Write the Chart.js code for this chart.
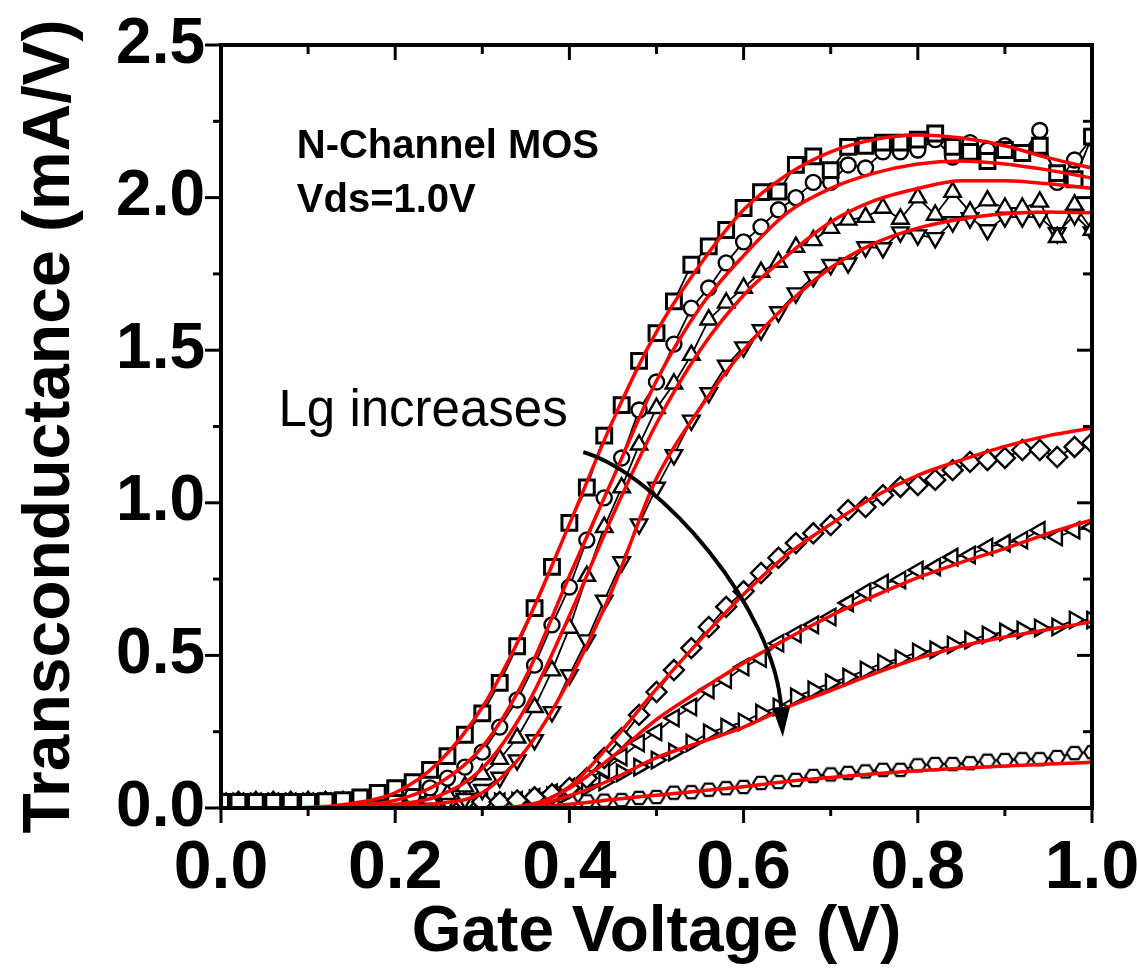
<!DOCTYPE html>
<html>
<head>
<meta charset="utf-8">
<script src="https://cdn.jsdelivr.net/npm/chart.js@4.4.0/dist/chart.umd.min.js"></script>
<style>
  html, body { margin: 0; padding: 0; background: #fff; }
  #wrap { width: 1137px; height: 973px; position: relative; }
</style>
</head>
<body>
<div id="wrap"><canvas id="gm"></canvas></div>
<script>
// gate voltage of the measured points (V)
const vg = [0,0.02,0.04,0.06,0.08,0.1,0.12,0.14,0.16,0.18,0.2,0.22,0.24,0.26,0.28,0.3,0.32,0.34,0.36,0.38,
  0.4,0.42,0.44,0.46,0.48,0.5,0.52,0.54,0.56,0.58,0.6,0.62,0.64,0.66,0.68,0.7,0.72,0.74,0.76,0.78,
  0.8,0.82,0.84,0.86,0.88,0.9,0.92,0.94,0.96,0.98,1.0];

// measured transconductance (mA/V), shortest gate first
const gmSquare = [0.02,0.02,0.02,0.02,0.02,0.02,0.022,0.026,0.035,0.049,0.065,0.085,0.125,0.17,0.24,0.31,0.41,0.53,0.655,0.79,
  0.934,1.05,1.22,1.32,1.465,1.556,1.66,1.78,1.84,1.894,1.966,2.018,2.02,2.107,2.135,2.09,2.166,2.17,2.18,2.18,
  2.19,2.21,2.166,2.15,2.12,2.156,2.146,2.17,2.08,2.06,2.2];
const gmCircle = [0.02,0.02,0.02,0.02,0.02,0.02,0.02,0.02,0.02,0.022,0.025,0.04,0.066,0.098,0.134,0.183,0.265,0.354,0.468,0.6,
  0.724,0.878,1.016,1.147,1.304,1.396,1.52,1.638,1.704,1.786,1.855,1.904,1.96,2.0,2.05,2.05,2.107,2.097,2.15,2.15,
  2.156,2.19,2.133,2.18,2.156,2.17,2.146,2.22,2.05,2.123,2.195];
const gmUp = [0.02,0.02,0.02,0.02,0.02,0.02,0.02,0.02,0.02,0.02,0.02,0.022,0.03,0.045,0.07,0.11,0.16,0.23,0.33,0.45,
  0.59,0.76,0.92,1.05,1.19,1.31,1.39,1.484,1.6,1.655,1.704,1.756,1.789,1.838,1.86,1.9,1.927,1.936,1.966,1.93,
  2.0,1.943,2.018,1.953,1.99,1.966,1.966,1.986,1.87,1.976,1.894];
const gmDown = [0.02,0.02,0.02,0.02,0.02,0.02,0.02,0.02,0.02,0.02,0.02,0.02,0.02,0.022,0.03,0.06,0.1,0.157,0.223,0.315,
  0.436,0.55,0.68,0.806,0.93,1.05,1.157,1.27,1.36,1.45,1.51,1.566,1.625,1.687,1.74,1.78,1.785,1.838,1.835,1.887,
  1.877,1.868,1.92,1.933,1.894,1.936,1.936,1.936,1.884,1.943,1.887];
const gmDiamond = [0.02,0.02,0.02,0.02,0.02,0.02,0.02,0.02,0.02,0.02,0.02,0.02,0.02,0.02,0.02,0.02,0.02,0.025,0.035,0.045,
  0.066,0.098,0.164,0.229,0.305,0.38,0.452,0.524,0.593,0.659,0.71,0.77,0.82,0.868,0.9,0.927,0.976,0.986,1.025,1.052,
  1.058,1.075,1.107,1.134,1.14,1.147,1.173,1.173,1.15,1.183,1.196];
const gmLeft = [0.02,0.02,0.02,0.02,0.02,0.02,0.02,0.02,0.02,0.02,0.02,0.02,0.02,0.02,0.02,0.02,0.02,0.025,0.035,0.05,
  0.069,0.092,0.125,0.167,0.213,0.249,0.295,0.331,0.387,0.42,0.462,0.49,0.54,0.57,0.6,0.626,0.672,0.708,0.737,0.747,
  0.78,0.79,0.822,0.829,0.855,0.868,0.878,0.91,0.888,0.91,0.92];
const gmRight = [0.02,0.02,0.02,0.02,0.02,0.02,0.02,0.02,0.02,0.02,0.02,0.02,0.02,0.02,0.02,0.02,0.02,0.023,0.03,0.04,
  0.052,0.069,0.085,0.115,0.134,0.157,0.183,0.213,0.246,0.265,0.282,0.311,0.331,0.364,0.387,0.41,0.429,0.452,0.475,0.49,
  0.511,0.518,0.534,0.55,0.567,0.577,0.583,0.59,0.593,0.616,0.616];
const gmHex = [0.02,0.02,0.02,0.02,0.02,0.02,0.02,0.02,0.02,0.02,0.02,0.02,0.02,0.02,0.02,0.02,0.02,0.02,0.02,0.02,
  0.02,0.022,0.024,0.026,0.033,0.036,0.05,0.052,0.06,0.065,0.069,0.082,0.085,0.092,0.105,0.11,0.115,0.12,0.125,0.125,
  0.14,0.144,0.144,0.147,0.155,0.157,0.16,0.16,0.167,0.18,0.183];

// model fits (red)
const vgFit = [0,0.05,0.1,0.15,0.2,0.25,0.3,0.35,0.4,0.45,0.5,0.55,0.6,0.65,0.7,0.75,0.8,0.85,0.9,0.95,1.0];
const fit1 = [0,0,0.002,0.015,0.05,0.15,0.33,0.6,0.93,1.27,1.56,1.78,1.96,2.075,2.15,2.19,2.205,2.195,2.17,2.13,2.097];
const fit2 = [0,0,0,0.008,0.025,0.08,0.2,0.43,0.76,1.08,1.4,1.64,1.81,1.95,2.03,2.08,2.11,2.12,2.11,2.09,2.064];
const fit3 = [0,0,0,0.004,0.012,0.04,0.13,0.33,0.63,0.96,1.26,1.5,1.68,1.81,1.92,1.99,2.03,2.055,2.055,2.045,2.03];
const fit4 = [0,0,0,0,0.005,0.015,0.05,0.19,0.42,0.72,1.08,1.31,1.5,1.65,1.77,1.85,1.9,1.93,1.947,1.953,1.95];
const fit5 = [0,0,0,0,0,0,0,0.008,0.07,0.22,0.39,0.55,0.7,0.83,0.93,1.02,1.09,1.14,1.185,1.22,1.245];
const fit6 = [0,0,0,0,0,0,0,0.006,0.065,0.17,0.29,0.385,0.475,0.555,0.63,0.695,0.755,0.805,0.85,0.9,0.944];
const fit7 = [0,0,0,0,0,0,0,0.004,0.04,0.095,0.165,0.215,0.265,0.33,0.385,0.44,0.49,0.53,0.56,0.585,0.61];
const fit8 = [0,0,0,0,0,0,0,0.002,0.012,0.028,0.042,0.056,0.07,0.087,0.1,0.112,0.122,0.13,0.138,0.144,0.15];

// axis ticks
const xMajor = [0,0.2,0.4,0.6,0.8,1.0];
const xMinor = [0.1,0.3,0.5,0.7,0.9];
const yMajor = [0,0.5,1.0,1.5,2.0,2.5];
const yMinor = [0.25,0.75,1.25,1.75,2.25];

// text notes and the arrow, in data units
const notes = [
  { text: 'N-Channel MOS', x: 0.087, y: 2.13, font: '700 40px "Liberation Sans", Arial' },
  { text: 'Vds=1.0V', x: 0.087, y: 1.953, font: '700 40px "Liberation Sans", Arial' },
  { text: 'Lg increases', x: 0.066, y: 1.252, font: '400 51px "Liberation Sans", Arial' }
];
const arrowPath = [[0.416,1.166],[0.505,1.091],[0.637,0.649],[0.645,0.233]];

const FONT = '"Liberation Sans", Arial, sans-serif';

function hexagon(size, lw){
  const c = document.createElement('canvas');
  c.width = size; c.height = size;
  const g = c.getContext('2d');
  const r = size/2 - lw;
  g.fillStyle = '#fff';
  g.strokeStyle = '#000';
  g.lineWidth = lw;
  g.beginPath();
  for(let k=0;k<6;k++){
    const a = Math.PI/3*k;
    const px = size/2 + r*Math.cos(a), py = size/2 + r*0.9*Math.sin(a);
    if(k===0) g.moveTo(px,py); else g.lineTo(px,py);
  }
  g.closePath(); g.fill(); g.stroke();
  return c;
}

const pts = (xs, ys) => xs.map((x,i) => ({x, y: ys[i]}));

function measured(ys, style, radius, rotation){
  return {
    data: pts(vg, ys), order: 1,
    showLine: true, borderColor: '#000', borderWidth: 1.8,
    pointStyle: style, pointRadius: radius, pointRotation: rotation || 0,
    pointBorderColor: '#000', pointBackgroundColor: '#fff', pointBorderWidth: 2.4
  };
}
function fitted(ys){
  return {
    data: pts(vgFit, ys), order: 0,
    showLine: true, borderColor: '#ff0000', borderWidth: 3.5,
    cubicInterpolationMode: 'monotone', pointRadius: 0
  };
}

const datasets = [
  fitted(fit1), fitted(fit2), fitted(fit3), fitted(fit4),
  fitted(fit5), fitted(fit6), fitted(fit7), fitted(fit8),
  measured(gmSquare, 'rect', 10.5),
  measured(gmCircle, 'circle', 7.5),
  measured(gmUp, 'triangle', 9.5),
  measured(gmDown, 'triangle', 9.5, 180),
  measured(gmDiamond, 'rectRot', 10),
  measured(gmLeft, 'triangle', 9.5, 270),
  measured(gmRight, 'triangle', 9.5, 90),
  measured(gmHex, hexagon(20, 2.2), 10)
];
datasets[8].pointBorderWidth = 3;

const framePlugin = {
  id: 'frame',
  afterDatasetsDraw(chart){
    const {ctx, chartArea: a, scales: {x, y}} = chart;
    ctx.save();
    ctx.strokeStyle = '#000';
    ctx.lineCap = 'butt';
    ctx.lineWidth = 3;
    const tick = (x1,y1,x2,y2) => { ctx.beginPath(); ctx.moveTo(x1,y1); ctx.lineTo(x2,y2); ctx.stroke(); };
    xMajor.forEach(v => { const p = x.getPixelForValue(v); tick(p,a.bottom,p,a.bottom+15); tick(p,a.top,p,a.top+15); });
    xMinor.forEach(v => { const p = x.getPixelForValue(v); tick(p,a.bottom,p,a.bottom+8); tick(p,a.top,p,a.top+9); });
    yMajor.forEach(v => { const p = y.getPixelForValue(v); tick(a.left,p,a.left-16,p); tick(a.right,p,a.right-15,p); });
    yMinor.forEach(v => { const p = y.getPixelForValue(v); tick(a.left,p,a.left-8,p); tick(a.right,p,a.right-9,p); });
    ctx.lineWidth = 4;
    ctx.strokeRect(a.left, a.top, a.right-a.left, a.bottom-a.top);

    // notes
    ctx.fillStyle = '#000';
    ctx.textAlign = 'left';
    ctx.textBaseline = 'alphabetic';
    notes.forEach(n => {
      ctx.font = n.font;
      ctx.fillText(n.text, x.getPixelForValue(n.x), y.getPixelForValue(n.y));
    });

    // curved arrow
    const P = arrowPath.map(([vx,vy]) => [x.getPixelForValue(vx), y.getPixelForValue(vy)]);
    const tip = P[3];
    const dx = P[3][0]-P[2][0], dy = P[3][1]-P[2][1];
    const len = Math.hypot(dx,dy), ux = dx/len, uy = dy/len;
    const headL = 30, headW = 9;
    const base = [tip[0]-ux*headL, tip[1]-uy*headL];
    ctx.lineWidth = 4;
    ctx.beginPath();
    ctx.moveTo(P[0][0],P[0][1]);
    ctx.bezierCurveTo(P[1][0],P[1][1],P[2][0],P[2][1],base[0],base[1]+2);
    ctx.stroke();
    ctx.beginPath();
    ctx.moveTo(tip[0],tip[1]);
    ctx.lineTo(base[0]-uy*headW, base[1]+ux*headW);
    ctx.lineTo(base[0]+uy*headW, base[1]-ux*headW);
    ctx.closePath();
    ctx.fill();
    ctx.restore();
  }
};

new Chart(document.getElementById('gm'), {
  type: 'scatter',
  data: { datasets },
  options: {
    responsive: true,
    maintainAspectRatio: false,
    animation: false,
    layout: { padding: { top: 45, right: 45, left: 0, bottom: 0 } },
    plugins: { legend: { display: false }, tooltip: { enabled: false } },
    scales: {
      x: {
        type: 'linear', min: 0, max: 1,
        grid: { display: false, drawTicks: false },
        border: { display: false },
        ticks: { stepSize: 0.2, padding: 20, color: '#000',
          font: { family: FONT, size: 68, weight: 'bold' },
          callback: v => Number(v).toFixed(1) },
        title: { display: true, text: 'Gate Voltage (V)', color: '#000',
          font: { family: FONT, size: 64, weight: 'bold' }, padding: { top: 0, bottom: 1 } },
        afterFit: s => { s.height = 165; s.paddingLeft = 0; s.paddingRight = 0; }
      },
      y: {
        type: 'linear', min: 0, max: 2.5,
        grid: { display: false, drawTicks: false },
        border: { display: false },
        ticks: { stepSize: 0.5, padding: 16, color: '#000',
          font: { family: FONT, size: 64, weight: 'bold' },
          callback: v => Number(v).toFixed(1) },
        title: { display: true, text: 'Transconductance (mA/V)', color: '#000',
          font: { family: FONT, size: 66, weight: 'bold' }, padding: { top: 11, bottom: 0 } },
        afterFit: s => { s.width = 221; s.paddingTop = 0; s.paddingBottom = 0; }
      }
    }
  },
  plugins: [framePlugin]
});
</script>
</body>
</html>
